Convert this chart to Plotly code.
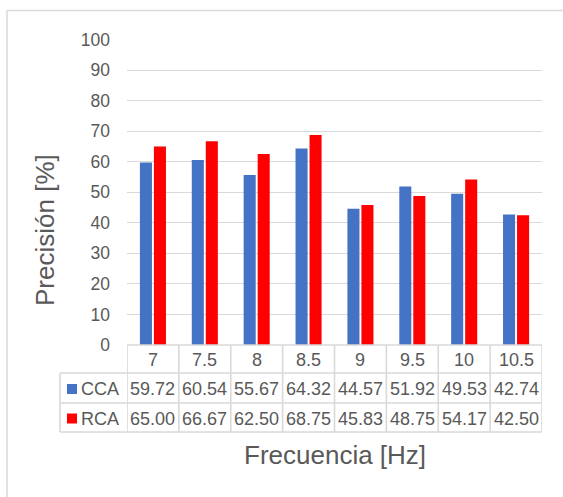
import plotly.graph_objects as go

# Chart data
frequencies = ["7", "7.5", "8", "8.5", "9", "9.5", "10", "10.5"]
cca = [59.72, 60.54, 55.67, 64.32, 44.57, 51.92, 49.53, 42.74]
rca = [65.00, 66.67, 62.50, 68.75, 45.83, 48.75, 54.17, 42.50]
series_names = ["CCA", "RCA"]
series_colors = ["#4472C4", "#FF0000"]
y_title = "Precisión [%]"
x_title = "Frecuencia [Hz]"

W, H = 563, 497
FONT = "Liberation Sans, Arial, sans-serif"
TXT = "#595959"
GRID = "#D9D9D9"
TABLE_FONT = 18


def px(x):
    return x / W


def py(y):
    return 1 - y / H


# layout geometry (pixels)
plot_left, plot_right = 127, 542
plot_top, plot_bottom = 39.5, 345
legend_left = 60
row_lines = [345, 373, 403, 432]

fig = go.Figure()
for name, vals, col in zip(series_names, [cca, rca], series_colors):
    fig.add_trace(go.Bar(x=frequencies, y=vals, name=name, marker=dict(color=col, line=dict(width=0)),
                         hoverinfo="x+y+name"))

shapes = []
# outer chart frame (left and top edges inside the page)
shapes.append(dict(type="line", xref="paper", yref="paper", x0=px(7), x1=1,
                   y0=py(10.5), y1=py(10.5), line=dict(color=GRID, width=1.5), layer="below"))
shapes.append(dict(type="line", xref="paper", yref="paper", x0=px(7), x1=px(7),
                   y0=0, y1=py(10.5), line=dict(color=GRID, width=1.5), layer="below"))
# data table horizontal rules
shapes.append(dict(type="line", xref="paper", yref="paper", x0=px(plot_left), x1=px(plot_right),
                   y0=py(row_lines[0]), y1=py(row_lines[0]), line=dict(color=GRID, width=1.6)))
for r in row_lines[1:]:
    shapes.append(dict(type="line", xref="paper", yref="paper", x0=px(legend_left), x1=px(plot_right),
                       y0=py(r), y1=py(r), line=dict(color=GRID, width=1.6)))
# legend column left edge
shapes.append(dict(type="line", xref="paper", yref="paper", x0=px(legend_left), x1=px(legend_left),
                   y0=py(row_lines[1]), y1=py(row_lines[3]), line=dict(color=GRID, width=1.6)))
# category boundaries
for i in range(len(frequencies) + 1):
    shapes.append(dict(type="line", xref="x", yref="paper", x0=i - 0.5, x1=i - 0.5,
                       y0=py(row_lines[0]), y1=py(row_lines[3]), line=dict(color=GRID, width=1.6)))

annotations = []
row_centers = [(row_lines[k] + row_lines[k + 1]) / 2 + 1 for k in range(3)]
for i, f in enumerate(frequencies):
    annotations.append(dict(x=i, y=py(row_centers[0]), xref="x", yref="paper", text=f, showarrow=False,
                            font=dict(family=FONT, size=TABLE_FONT, color=TXT),
                            xanchor="center", yanchor="middle"))
for k, (name, vals, col) in enumerate(zip(series_names, [cca, rca], series_colors)):
    yc = row_centers[k + 1]
    for i, v in enumerate(vals):
        annotations.append(dict(x=i, y=py(yc), xref="x", yref="paper", text=f"{v:.2f}", showarrow=False,
                                font=dict(family=FONT, size=TABLE_FONT, color=TXT), xanchor="center",
                                yanchor="middle"))
    # legend key
    shapes.append(dict(type="rect", xref="paper", yref="paper", x0=px(67), x1=px(77),
                       y0=py(yc + 5), y1=py(yc - 5), fillcolor=col, line=dict(width=0)))
    annotations.append(dict(x=px(78.5), y=py(yc), xref="paper", yref="paper", text=name, showarrow=False,
                            font=dict(family=FONT, size=TABLE_FONT, color=TXT),
                            xanchor="left", yanchor="middle"))

# axis titles
annotations.append(dict(x=px(45), y=py(230), xref="paper", yref="paper", text=y_title, showarrow=False,
                        textangle=-90, font=dict(family=FONT, size=26, color=TXT),
                        xanchor="center", yanchor="middle"))
annotations.append(dict(x=px(335), y=py(455), xref="paper", yref="paper", text=x_title, showarrow=False,
                        font=dict(family=FONT, size=26, color=TXT), xanchor="center", yanchor="middle"))

fig.update_layout(
    width=W, height=H,
    margin=dict(l=0, r=0, t=0, b=0, autoexpand=False),
    paper_bgcolor="white", plot_bgcolor="white",
    showlegend=False,
    barmode="group", bargap=0.46, bargroupgap=0.14,
    font=dict(family=FONT, color=TXT),
    shapes=shapes, annotations=annotations,
    xaxis=dict(type="category", categoryorder="array", categoryarray=frequencies,
               range=[-0.5, len(frequencies) - 0.5], domain=[px(plot_left), px(plot_right)],
               showticklabels=False, showgrid=False, zeroline=False, showline=False, ticks="",
               automargin=False),
    yaxis=dict(range=[0, 100], dtick=10, domain=[py(plot_bottom), py(plot_top)],
               showgrid=True, gridcolor=GRID, gridwidth=1.2, zeroline=False, showline=False,
               ticks="", ticklabelstandoff=16, automargin=False,
               tickfont=dict(family=FONT, size=17.5, color=TXT)),
)

fig.write_html("out.html")
